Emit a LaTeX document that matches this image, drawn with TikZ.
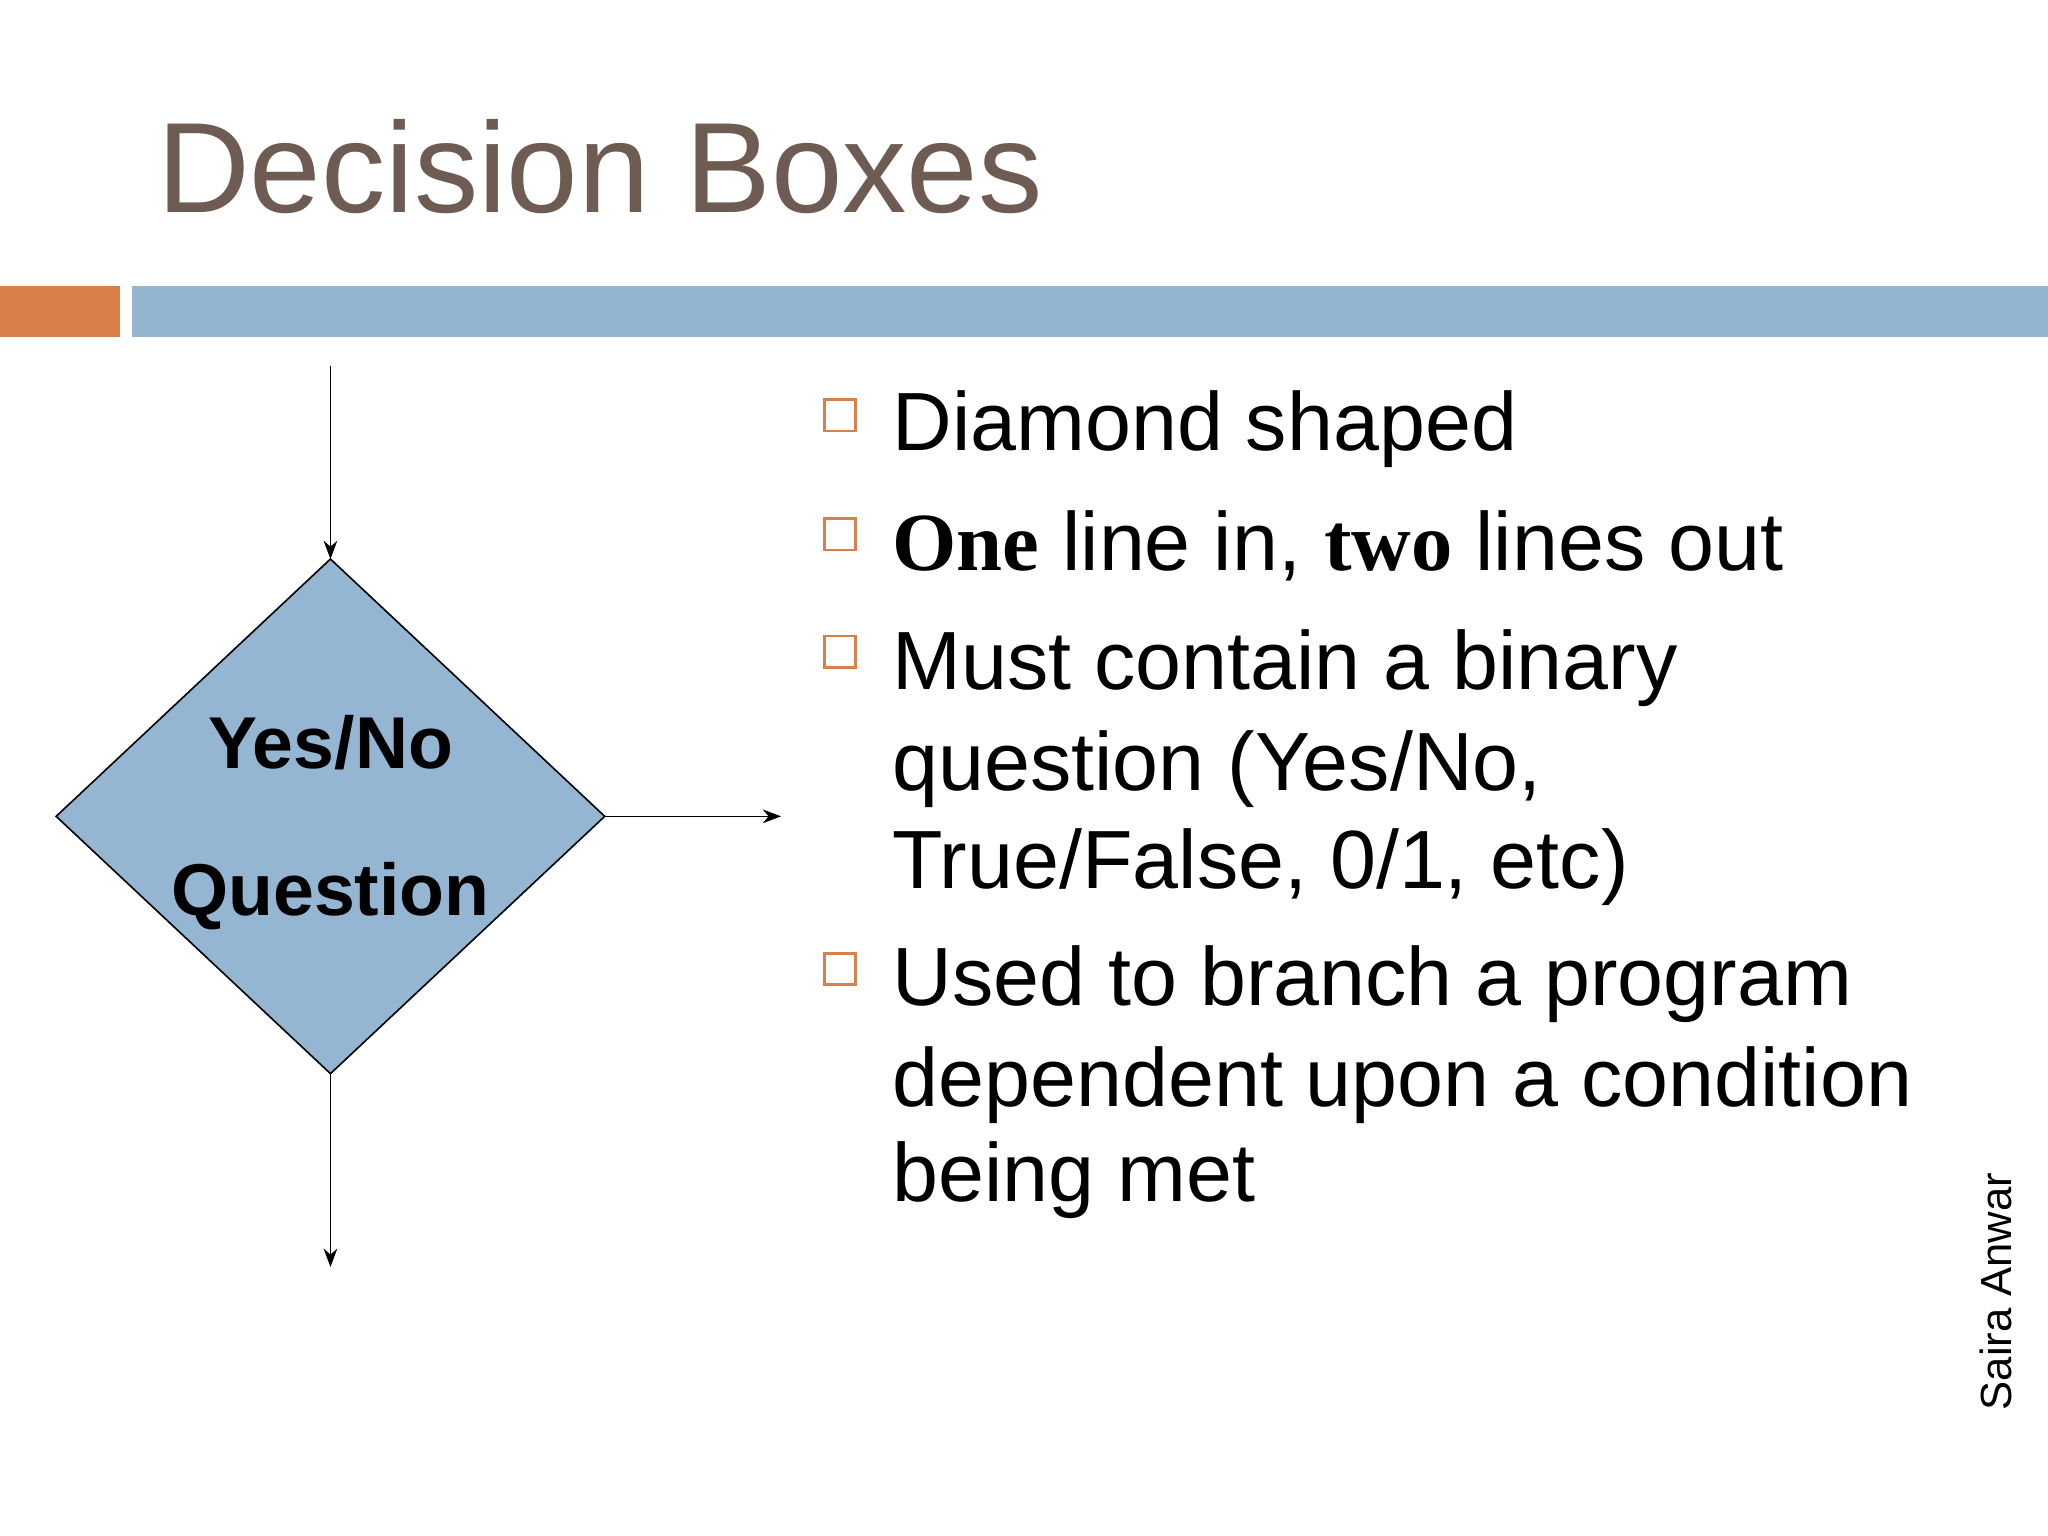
\documentclass[tikz,border=0pt]{standalone}
\usepackage{fontspec}
\setmainfont{Liberation Sans}
\newfontfamily\serifb{Liberation Serif}
\usetikzlibrary{arrows.meta}
\definecolor{orangebar}{HTML}{D9804A}
\definecolor{bluebar}{HTML}{93B5D0}
\definecolor{dfill}{HTML}{95B6D3}
\definecolor{titlec}{HTML}{6E5B52}
\definecolor{bulletc}{HTML}{D9804A}
\tikzset{
  body/.style={anchor=base west,inner sep=0pt,font=\fontsize{36}{40}\selectfont},
  bul/.style={draw=bulletc,line width=1.2pt,fill=white},
  conn/.style={-{Stealth[length=8pt,width=6pt]},line width=0.7pt},
}
\begin{document}
\begin{tikzpicture}[x=0.02cm,y=-0.02cm]
\useasboundingbox[fill=white] (0,0) rectangle (1568,1176);
\fill[orangebar] (0,219) rectangle (92,258);
\fill[bluebar] (101,219) rectangle (1568,258);
\node[anchor=base west,inner sep=0pt,text=titlec,font=\fontsize{56}{60}\selectfont] (title) at (120,163) {Decision Boxes};
\node[draw,line width=0.7pt,fill=dfill,shape=rectangle,minimum size=0pt] (c) at (253,625) {};
\path[draw,line width=0.7pt,fill=dfill] (253,428) coordinate (t) -- (463,625) coordinate (r) -- (253,822) coordinate (b) -- (43,625) coordinate (l) -- cycle;
\node[align=center,font=\bfseries\fontsize{32}{64}\selectfont] (q) at (253,630) {Yes/No\\Question};
\coordinate (in) at (253,280);
\coordinate (outr) at (598,625);
\coordinate (outb) at (253,970);
\draw[conn] (in) -- (t);
\draw[conn] (r) -- (outr);
\draw[conn] (b) -- (outb);
\foreach \y/\n in {318/b1,409/b2,499/b3,742/b4}{
  \node[bul,minimum size=0.48cm,inner sep=0pt] (\n) at (643,\y) {};
}
\node[body] (l1) at (683,345) {Diamond shaped};
\node[body] (l2) at (683,437) {{\serifb\bfseries One} line in, {\serifb\bfseries two} lines out};
\node[body] (l3) at (683,528) {Must contain a binary};
\node[body] (l4) at (683,605) {question (Yes/No,};
\node[body] (l5) at (683,680) {True/False, 0/1, etc)};
\node[body] (l6) at (683,770) {Used to branch a program};
\node[body] (l7) at (683,847) {dependent upon a condition};
\node[body] (l8) at (683,920) {being met};
\node[rotate=90,anchor=base west,inner sep=0pt,font=\fontsize{19}{22}\selectfont] (sa) at (1540,1080) {Saira Anwar};
\end{tikzpicture}
\end{document}
